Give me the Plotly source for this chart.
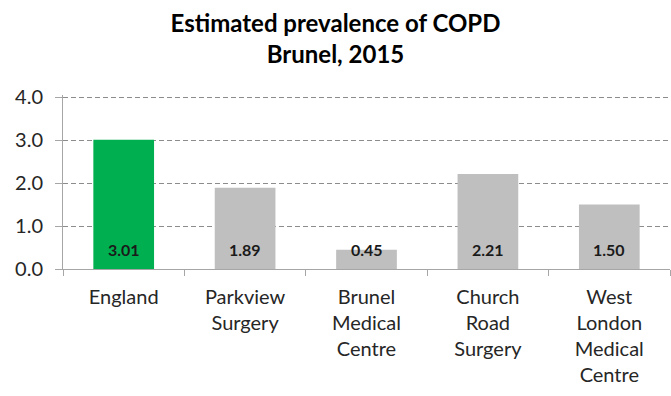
import plotly.graph_objects as go

# Estimated COPD prevalence (%) by practice, Brunel 2015
categories = [
    "England",
    "Parkview<br>Surgery",
    "Brunel<br>Medical<br>Centre",
    "Church<br>Road<br>Surgery",
    "West<br>London<br>Medical<br>Centre",
]
prevalence = [3.01, 1.89, 0.45, 2.21, 1.50]
bar_colors = ["#00B050", "#BFBFBF", "#BFBFBF", "#BFBFBF", "#BFBFBF"]
y_ticks = [0.0, 1.0, 2.0, 3.0, 4.0]

FONT = "Lato"
AXIS_GREY = "#A6A6A6"

fig = go.Figure(
    go.Bar(
        x=categories,
        y=prevalence,
        marker=dict(color=bar_colors, line=dict(width=0)),
        width=0.5,
        hoverinfo="skip",
    )
)

# value labels sit just above the base of each bar
for cat, val in zip(categories, prevalence):
    fig.add_annotation(
        x=cat,
        y=0,
        text=f"<b>{val:.2f}</b>",
        showarrow=False,
        yanchor="middle",
        yshift=20,
        font=dict(family=FONT, size=16, color="#1a1a1a"),
    )

fig.update_layout(
    width=671,
    height=396,
    margin=dict(l=63, r=1, t=95, b=127),
    paper_bgcolor="white",
    plot_bgcolor="white",
    showlegend=False,
    font=dict(family=FONT, color="#262626"),
    title=dict(
        text="<b>Estimated prevalence of COPD<br>Brunel, 2015</b>",
        x=0.5,
        xref="container",
        xanchor="center",
        y=0.92,
        yref="container",
        yanchor="middle",
        font=dict(family=FONT, size=24, color="#000000"),
    ),
)

fig.update_xaxes(
    type="category",
    tickson="boundaries",
    ticks="outside",
    ticklen=6,
    tickcolor=AXIS_GREY,
    showline=True,
    linecolor=AXIS_GREY,
    linewidth=1,
    showgrid=False,
    ticklabelstandoff=10,
    tickfont=dict(family=FONT, size=20, color="#262626"),
)

fig.update_yaxes(
    range=[0, 4.05],
    tickvals=y_ticks,
    ticktext=[f"{v:.1f}" for v in y_ticks],
    ticks="outside",
    ticklen=7,
    tickcolor=AXIS_GREY,
    showline=True,
    linecolor=AXIS_GREY,
    linewidth=1,
    showgrid=True,
    gridcolor="#8C8C8C",
    griddash="5px,3px",
    gridwidth=1,
    zeroline=False,
    ticklabelstandoff=8,
    tickfont=dict(family=FONT, size=20, color="#262626"),
)

fig.write_html("out.html")
